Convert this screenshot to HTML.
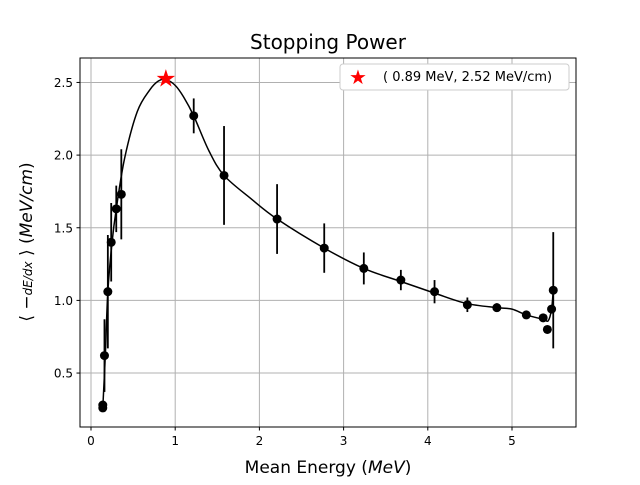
<!DOCTYPE html>
<html><head><meta charset="utf-8"><style>
body{margin:0;background:#fff}
svg text{font-family:"DejaVu Sans","Liberation Sans",sans-serif}
</style></head><body>
<svg id="chart" width="640" height="480" xmlns="http://www.w3.org/2000/svg">
<rect width="640" height="480" fill="#fff"/>
<text x="328" y="49" font-size="20" text-anchor="middle">Stopping Power</text>
<g id="grid"></g>
<g id="curve"></g>
<g id="points"></g>
<rect x="80" y="58" width="496" height="369" fill="none" stroke="#000" stroke-width="1"/>
<g id="ticks"></g>
<text x="328" y="473" font-size="17" text-anchor="middle">Mean Energy (<tspan font-style="italic">MeV</tspan>)</text>
<text transform="translate(32,242) rotate(-90)" font-size="17" text-anchor="middle">⟨ −<tspan font-style="italic" font-size="12">dE/dx</tspan> ⟩ (<tspan font-style="italic">MeV/cm</tspan>)</text>
<g>
<rect x="340" y="64" width="229" height="26" rx="3" fill="#fff" stroke="#ccc"/>
<text x="358" y="84" font-size="20" fill="red" text-anchor="middle">★</text>
<text x="383" y="81" font-size="13">( 0.89 MeV, 2.52 MeV/cm)</text>
</g>
</svg>
<script>
const xTicks=[0,1,2,3,4,5];
const yTicks=[0.5,1.0,1.5,2.0,2.5];
const yTickLabels=["0.5","1.0","1.5","2.0","2.5"];
const energies=[0.14,0.14,0.16,0.20,0.24,0.30,0.36,1.22,1.58,2.21,2.77,3.24,3.68,4.08,4.47,4.82,5.17,5.37,5.42,5.47,5.49];
const powers=[0.28,0.26,0.62,1.06,1.40,1.63,1.73,2.27,1.86,1.56,1.36,1.22,1.14,1.06,0.97,0.95,0.90,0.88,0.80,0.94,1.07];
const errors=[0.02,0.02,0.25,0.39,0.27,0.16,0.31,0.12,0.34,0.24,0.17,0.11,0.07,0.08,0.05,0.03,0.02,0.02,0.02,0.02,0.40];
const curveX=[0.14,0.17,0.2,0.25,0.3,0.4,0.55,0.7,0.8,0.89,1.0,1.1,1.22,1.4,1.58,1.9,2.21,2.77,3.24,3.68,4.08,4.45,4.82,5.0,5.17,5.37,5.43,5.47,5.49];
const curveY=[0.26,0.62,1.06,1.40,1.63,1.98,2.3,2.45,2.51,2.52,2.48,2.40,2.27,2.03,1.86,1.70,1.56,1.36,1.22,1.13,1.05,0.98,0.95,0.94,0.90,0.87,0.86,0.94,1.07];
const peakX=0.89, peakY=2.52;
const NS="http://www.w3.org/2000/svg";
const sx=v=>91+v*84.2, sy=v=>445.7-v*145.3;
function mk(t,a,p){const e=document.createElementNS(NS,t);for(const k in a)e.setAttribute(k,a[k]);p.appendChild(e);return e;}
const grid=document.getElementById('grid'),ticks=document.getElementById('ticks');
xTicks.forEach(v=>{
 const g=mk('line',{x1:sx(v),x2:sx(v),y1:58,y2:427,stroke:'#b0b0b0','stroke-width':1},grid);
 
 
 mk('line',{x1:sx(v),x2:sx(v),y1:427,y2:430.5,stroke:'#000'},ticks);
 const t=mk('text',{x:sx(v),y:445,'font-size':12,'text-anchor':'middle'},ticks);t.textContent=v;
 
 
});
yTicks.forEach((v,i)=>{
 const g=mk('line',{x1:80,x2:576,y1:sy(v),y2:sy(v),stroke:'#b0b0b0','stroke-width':1},grid);
 
 
 mk('line',{x1:76.5,x2:80,y1:sy(v),y2:sy(v),stroke:'#000'},ticks);
 const t=mk('text',{x:73,y:sy(v)+4.5,'font-size':12,'text-anchor':'end'},ticks);t.textContent=yTickLabels[i];
 
 
});
const P=curveX.map((x,i)=>[sx(x),sy(curveY[i])]);
let d=`M${P[0][0]},${P[0][1]}`;
for(let i=0;i<P.length-1;i++){const p0=P[Math.max(0,i-1)],p1=P[i],p2=P[i+1],p3=P[Math.min(P.length-1,i+2)];
 d+=` C${p1[0]+(p2[0]-p0[0])/6},${p1[1]+(p2[1]-p0[1])/6} ${p2[0]-(p3[0]-p1[0])/6},${p2[1]-(p3[1]-p1[1])/6} ${p2[0]},${p2[1]}`;}
const c=mk('path',{d:d,fill:'none',stroke:'#000','stroke-width':1.5},document.getElementById('curve'));


const pts=document.getElementById('points');
energies.forEach((x,i)=>{
 const e=mk('line',{x1:sx(x),x2:sx(x),y1:sy(powers[i]-errors[i]),y2:sy(powers[i]+errors[i]),stroke:'#000','stroke-width':1.8},pts);
 
 
 const p=mk('circle',{cx:sx(x),cy:sy(powers[i]),r:4.5,fill:'#000'},pts);
 
 
});
const s=mk('text',{x:sx(peakX),y:sy(peakY)+7,'font-size':24,fill:'red','text-anchor':'middle'},pts);s.textContent='★';


</script>
</body></html>
